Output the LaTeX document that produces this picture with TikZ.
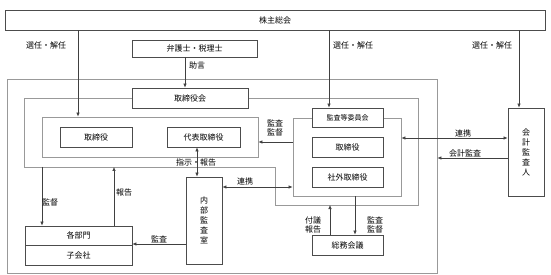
\documentclass[tikz,border=0pt]{standalone}
\usepackage{fontspec}
\setmainfont{Noto Sans CJK JP}
\usetikzlibrary{arrows.meta}

\begin{document}
\begin{tikzpicture}[
  x = 1pt, y = -1pt,
  every node/.style = {
    inner sep = 0pt,
    font = \fontsize{8}{10}\selectfont
  },
  kasten/.style = {draw = black!70, fill = white, line width = 0.8pt},
  rahmen/.style = {draw = black!40, line width = 0.8pt},
  pfeil/.style = {draw = black!75, line width = 0.6pt,
    -{Latex[length=4pt, width=3.5pt]}},
  doppel/.style = {pfeil,
    {Latex[length=4pt, width=3.5pt]}-{Latex[length=4pt, width=3.5pt]}},
  zwei/.style = {align = center, font = \fontsize{8}{9.5}\selectfont}
]
  \useasboundingbox (0,0) rectangle (551,275);

  % Rahmen
  \node[rahmen, minimum width=430, minimum height=194] (OF) at (222,176) {};
  \coordinate (BNW) at (24,98);
  \coordinate (BSW) at (24,167);
  \coordinate (BSE) at (418,205);
  \draw[rahmen] (BNW) |- (275,167) |- (BSE) -- (418,98) -- cycle;
  \node[rahmen, minimum width=216, minimum height=40] (GR) at (150,137) {};
  \node[rahmen, minimum width=108, minimum height=78] (AC) at (347,157) {};

  % Knoten
  \node[kasten, minimum width=540, minimum height=20] (GM) at (275,20) {株主総会};
  \node[kasten, minimum width=125, minimum height=17] (LW) at (194.5,48.5) {弁護士・税理士};
  \node[kasten, minimum width=116, minimum height=20] (BD) at (190,98) {取締役会};
  \node[kasten, minimum width=72, minimum height=20] (D1) at (96,137) {取締役};
  \node[kasten, minimum width=73, minimum height=20] (RD) at (203.5,137) {代表取締役};
  \node[kasten, minimum width=71, minimum height=19,
        font=\fontsize{7}{8}\selectfont] (ACL) at (347.5,117.5) {監査等委員会};
  \node[kasten, minimum width=71, minimum height=20] (D2) at (347.5,147) {取締役};
  \node[kasten, minimum width=71, minimum height=20] (OD) at (347.5,177) {社外取締役};
  \node[kasten, minimum width=36, minimum height=87, align=center] (IA) at (204,220.5) {内\\部\\監\\査\\室};
  \node[kasten, minimum width=107, minimum height=19] (DP) at (78.5,235.5) {各部門};
  \node[kasten, minimum width=107, minimum height=20] (SB) at (78.5,255) {子会社};
  \node[kasten, minimum width=71, minimum height=20] (GA) at (347.5,245) {総務会議};
  \node[kasten, minimum width=36, minimum height=88, align=center] (EA) at (526,152) {会\\計\\監\\査\\人};

  % Pfeile
  \draw[pfeil] (78,0 |- GM.south) -- (78,0 |- GR.north);
  \draw[pfeil] (185,0 |- LW.south) -- (185,0 |- BD.north);
  \draw[pfeil] (329,0 |- GM.south) -- (329,0 |- ACL.north);
  \draw[pfeil] (519,0 |- GM.south) -- (519,0 |- EA.north);
  \draw[pfeil] (AC.west |- 0,142) -- (GR.east |- 0,142);
  \draw[doppel] (197,0 |- RD.south) -- (197,0 |- IA.north);
  \draw[doppel] (IA.east |- 0,187) -- (AC.west |- 0,187);
  \draw[pfeil] (42,0 |- BSW) -- (42,0 |- DP.north);
  \draw[pfeil] (114,0 |- DP.north) -- (114,0 |- BSW);
  \draw[pfeil] (IA.west |- 0,244) -- (DP.east |- 0,244);
  \draw[doppel] (AC.east |- 0,138) -- (EA.west |- 0,138);
  \draw[pfeil] (EA.west |- 0,158) -- (OF.east |- 0,158);
  \draw[pfeil] (330,0 |- GA.north) -- (330,0 |- BSE);
  \draw[pfeil] (355,0 |- AC.south) -- (355,0 |- GA.north);

  % Beschriftungen
  \node (s1) at (46,45) {選任・解任};
  \node (s2) at (353,45) {選任・解任};
  \node (s3) at (492,45) {選任・解任};
  \node (ad) at (197,65) {助言};
  \node[zwei] (km1) at (275,128) {監査\\監督};
  \node (ir) at (196,162) {指示・報告};
  \node (rk1) at (245,181) {連携};
  \node (kt) at (50,202) {監督};
  \node (hk) at (124,192) {報告};
  \node (ks) at (159,239) {監査};
  \node (rk2) at (463,133) {連携};
  \node (ka) at (465,153) {会計監査};
  \node[zwei] (fh) at (313,225) {付議\\報告};
  \node[zwei] (km2) at (375,225) {監査\\監督};
\end{tikzpicture}
\end{document}
